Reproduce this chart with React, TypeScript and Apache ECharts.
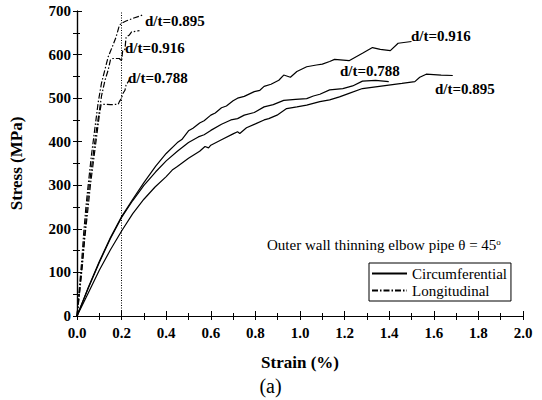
import React, { useEffect, useRef } from "react";
import * as echarts from "echarts";

// Strain (%) , Stress (MPa)
const circ0916: number[][] = [
  [0, 0], [0.05, 65], [0.1, 125], [0.15, 180], [0.2, 228], [0.25, 268], [0.3, 306],
  [0.353, 344], [0.4, 373], [0.45, 398], [0.47, 405], [0.5, 425], [0.52, 431], [0.55, 443],
  [0.57, 448], [0.6, 461], [0.62, 466], [0.648, 478], [0.67, 482], [0.7, 494], [0.72, 500],
  [0.75, 504], [0.795, 515], [0.82, 518], [0.839, 527], [0.87, 532], [0.905, 541],
  [0.927, 553], [0.957, 548], [0.986, 561], [1.03, 572], [1.074, 576], [1.1, 578],
  [1.133, 584], [1.155, 589], [1.22, 586], [1.28, 603], [1.325, 616], [1.36, 612],
  [1.405, 609], [1.44, 626], [1.5, 630],
];
const circ0788: number[][] = [
  [0, 0], [0.05, 63], [0.1, 123], [0.15, 178], [0.2, 226], [0.25, 265], [0.3, 300],
  [0.353, 331], [0.4, 356], [0.45, 378], [0.5, 398], [0.544, 411], [0.57, 416],
  [0.6, 426], [0.648, 440], [0.69, 450], [0.72, 453], [0.75, 461], [0.795, 467],
  [0.839, 480], [0.88, 485], [0.927, 495], [0.98, 497], [1.03, 499], [1.06, 505],
  [1.089, 509], [1.133, 519], [1.192, 522], [1.236, 528], [1.28, 539], [1.339, 541],
  [1.398, 538],
];
const circ0895: number[][] = [
  [0, 0], [0.05, 52], [0.1, 105], [0.15, 152], [0.2, 195], [0.25, 235], [0.3, 268],
  [0.35, 296], [0.4, 320], [0.427, 335], [0.45, 343], [0.5, 362], [0.55, 378],
  [0.574, 389], [0.59, 386], [0.6, 392], [0.65, 405], [0.7, 418], [0.72, 423],
  [0.73, 419], [0.76, 432], [0.8, 441], [0.839, 450], [0.86, 453], [0.897, 461],
  [0.94, 476], [0.986, 480], [1.03, 484], [1.089, 492], [1.133, 496], [1.177, 503],
  [1.22, 511], [1.28, 522], [1.339, 526], [1.398, 530], [1.457, 534], [1.515, 538],
  [1.537, 548], [1.566, 555], [1.633, 553], [1.685, 552],
];
const long0895: number[][] = [
  [0, 0], [0.01, 60], [0.02, 120], [0.03, 190], [0.04, 250], [0.05, 300], [0.065, 370],
  [0.08, 430], [0.095, 490], [0.11, 535], [0.125, 565], [0.14, 595], [0.16, 620],
  [0.175, 640], [0.185, 658], [0.19, 667], [0.2, 672], [0.22, 677], [0.25, 683],
  [0.28, 688], [0.3, 692],
];
const long0916: number[][] = [
  [0, 0], [0.012, 60], [0.025, 130], [0.035, 190], [0.045, 250], [0.055, 300],
  [0.07, 360], [0.085, 420], [0.1, 470], [0.11, 505], [0.125, 540], [0.14, 565],
  [0.15, 588], [0.16, 591], [0.19, 591], [0.2, 585], [0.205, 610], [0.215, 612],
  [0.22, 640], [0.235, 645], [0.245, 652], [0.28, 655],
];
const long0788: number[][] = [
  [0, 0], [0.012, 55], [0.025, 120], [0.035, 180], [0.05, 250], [0.06, 300],
  [0.075, 360], [0.09, 420], [0.1, 460], [0.108, 485], [0.12, 486], [0.15, 485],
  [0.185, 486], [0.19, 492], [0.2, 500], [0.205, 510], [0.215, 518], [0.22, 530],
  [0.235, 542],
];

const legendNames = ["Circumferential", "Longitudinal"];
const curveLabels = ["d/t=0.895", "d/t=0.916", "d/t=0.788", "d/t=0.916", "d/t=0.788", "d/t=0.895"];
const noteText = "Outer wall thinning elbow pipe θ = 45";
const xTicks = { min: 0, max: 2.0, interval: 0.2 };
const yTicks = { min: 0, max: 700, interval: 100 };
const refStrain = 0.2;

const FONT = "'Liberation Serif', 'Times New Roman', serif";

export default function App() {
  const ref = useRef<HTMLDivElement>(null);
  useEffect(() => {
    document.body.style.margin = "0";
    const chart = echarts.init(ref.current!, null, { renderer: "svg" });
    const dashDot = [6, 2, 1.5, 2];
    const solid = (name: string, data: number[][], extra: any = {}) => ({
      type: "line",
      name,
      data,
      symbol: "none",
      color: "#000",
      lineStyle: { color: "#000", width: 1.2, type: "solid" },
      ...extra,
    });
    const dd = (name: string, data: number[][]) => ({
      type: "line",
      name,
      data,
      symbol: "none",
      color: "#000",
      lineStyle: { color: "#000", width: 1.2, type: dashDot },
    });
    const labelStyle = { fontFamily: FONT, fontSize: 15, fontWeight: "bold", fill: "#000" };
    const labelPos = [
      [145, 20.5], [125, 47.5], [128, 77.5], [411, 36], [340, 71], [435, 89],
    ];
    const axisCommon = {
      axisLine: { show: true, lineStyle: { color: "#000", width: 1.2 } },
      splitLine: { show: false },
    };
    chart.setOption({
      animation: false,
      grid: { left: 70, right: 19, top: 11, bottom: 84 },
      legend: {
        data: legendNames,
        orient: "vertical",
        left: 369,
        top: 263,
        padding: [3, 4, 3, 2],
        itemGap: 2,
        itemWidth: 35,
        itemHeight: 14,
        borderColor: "#000",
        borderWidth: 1,
        borderRadius: 0,
        itemStyle: { color: "transparent", borderWidth: 0, opacity: 0 },
        textStyle: { fontFamily: FONT, fontSize: 15, color: "#000" },
      },
      xAxis: [
        {
          type: "value",
          ...xTicks,
          ...axisCommon,
          name: "Strain (%)",
          nameLocation: "middle",
          nameGap: 38,
          nameTextStyle: { fontFamily: FONT, fontSize: 17, fontWeight: "bold", color: "#000" },
          axisTick: { inside: true, length: 5, lineStyle: { color: "#000" } },
          minorTick: { show: true, splitNumber: 2, length: 3, lineStyle: { color: "#000" } },
          axisLabel: {
            fontFamily: FONT, fontSize: 15, fontWeight: "bold", color: "#000", margin: 9,
            formatter: (v: number) => v.toFixed(1),
          },
        },
        {
          type: "value",
          position: "top",
          ...xTicks,
          ...axisCommon,
          axisTick: { inside: true, length: 4, lineStyle: { color: "#000" } },
          minorTick: { show: true, splitNumber: 2, length: 4, lineStyle: { color: "#000" } },
          axisLabel: { show: false },
        },
      ],
      yAxis: [
        {
          type: "value",
          ...yTicks,
          ...axisCommon,
          name: "Stress (MPa)",
          nameLocation: "middle",
          nameGap: 52,
          nameTextStyle: { fontFamily: FONT, fontSize: 17, fontWeight: "bold", color: "#000" },
          axisTick: { inside: true, length: 5, lineStyle: { color: "#000" } },
          minorTick: { show: true, splitNumber: 2, length: 3, lineStyle: { color: "#000" } },
          axisLabel: { fontFamily: FONT, fontSize: 15, fontWeight: "bold", color: "#000", margin: 6 },
        },
        {
          type: "value",
          position: "right",
          ...yTicks,
          ...axisCommon,
          axisTick: { inside: true, length: 4, lineStyle: { color: "#000" } },
          minorTick: { show: true, splitNumber: 2, length: 4, lineStyle: { color: "#000" } },
          axisLabel: { show: false },
        },
      ],
      series: [
        solid(legendNames[0], circ0916, {
          markLine: {
            silent: true,
            symbol: "none",
            label: { show: false },
            lineStyle: { color: "#000", width: 1, type: [1, 1.5] },
            data: [{ xAxis: refStrain }],
          },
        }),
        solid(legendNames[0], circ0788),
        solid(legendNames[0], circ0895),
        dd(legendNames[1], long0895),
        dd(legendNames[1], long0916),
        dd(legendNames[1], long0788),
      ],
      graphic: [
        ...curveLabels.map((t, i) => ({
          type: "text",
          x: labelPos[i][0],
          y: labelPos[i][1],
          style: { ...labelStyle, text: t, verticalAlign: "middle" },
        })),
        {
          type: "text",
          x: 267,
          y: 245,
          style: {
            text: noteText + "{s|o}",
            fontFamily: FONT,
            fontSize: 15,
            fill: "#000",
            verticalAlign: "middle",
            rich: { s: { fontFamily: FONT, fontSize: 9, verticalAlign: "top", fill: "#000" } },
          },
        },
        {
          type: "text",
          x: 270.5,
          y: 386,
          style: {
            text: "(a)",
            fontFamily: FONT,
            fontSize: 20,
            fill: "#000",
            align: "center",
            verticalAlign: "middle",
          },
        },
      ],
    });
    return () => chart.dispose();
  }, []);
  return (
    <div
      ref={ref}
      style={{ width: 542, height: 400, position: "absolute", left: 0, top: 0, background: "#fff" }}
    />
  );
}
